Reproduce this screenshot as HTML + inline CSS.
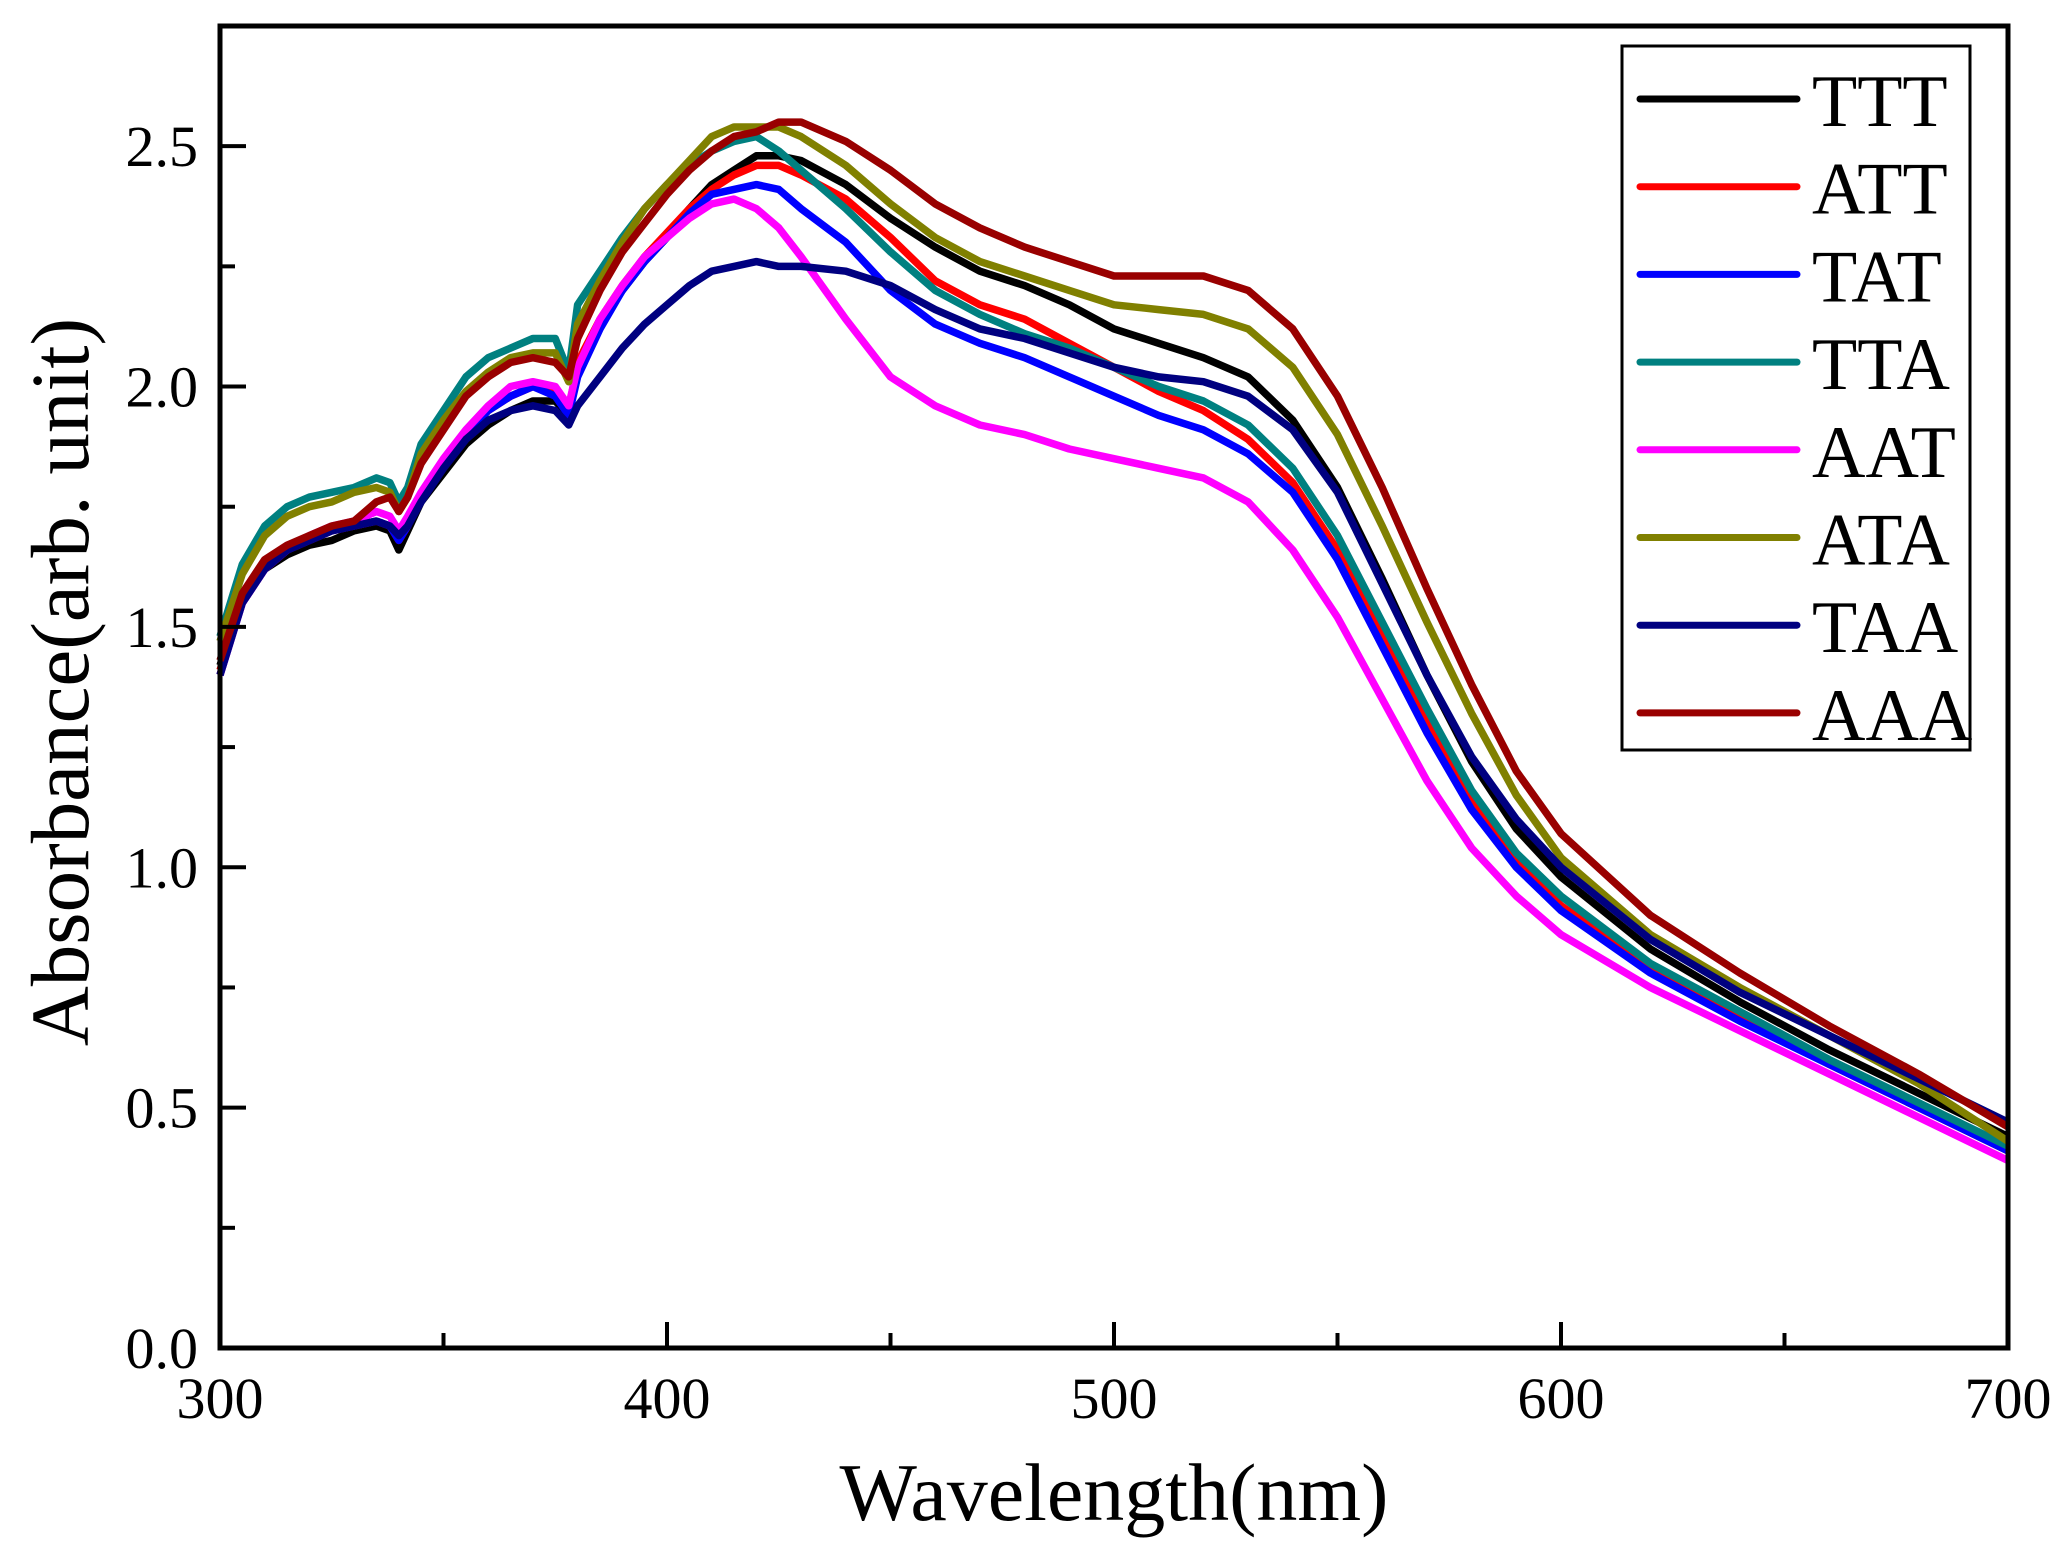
<!DOCTYPE html>
<html><head><meta charset="utf-8"><style>
html,body{margin:0;padding:0;background:#fff;}
svg{display:block;}
text{font-family:"Liberation Serif",serif;fill:#000;}
</style></head><body>
<svg id="chart" width="2070" height="1562" viewBox="0 0 2070 1562" xmlns="http://www.w3.org/2000/svg">
<g id="series"></g>
<g id="axes"></g>
<g id="legend"></g>
<text x="1114" y="1520" font-size="82" text-anchor="middle">Wavelength(nm)</text>
<text transform="translate(88,682) rotate(-90)" font-size="83" text-anchor="middle">Absorbance(arb. unit)</text>
</svg>
<script>
const wavelengths=[300,305,310,315,320,325,330,335,338,340,342,345,350,355,360,365,370,375,378,380,385,390,395,400,405,410,415,420,425,430,440,450,460,470,480,490,500,510,520,530,540,550,560,570,580,590,600,620,640,660,680,700];
const seriesNames=["TTT","ATT","TAT","TTA","AAT","ATA","TAA","AAA"];
const seriesColors=["#000000","#ff0000","#0000ff","#008080","#ff00ff","#808000","#000080","#990000"];
const valsTTT=[1.42,1.56,1.62,1.65,1.67,1.68,1.70,1.71,1.70,1.66,1.70,1.76,1.82,1.88,1.92,1.95,1.97,1.97,1.94,2.03,2.13,2.20,2.26,2.31,2.37,2.42,2.45,2.48,2.48,2.47,2.42,2.35,2.29,2.24,2.21,2.17,2.12,2.09,2.06,2.02,1.93,1.79,1.60,1.40,1.22,1.08,0.98,0.83,0.72,0.62,0.53,0.44];
const valsATT=[1.41,1.55,1.62,1.66,1.68,1.70,1.71,1.72,1.71,1.68,1.71,1.77,1.84,1.90,1.95,1.98,2.00,1.99,1.95,2.05,2.14,2.21,2.27,2.32,2.37,2.41,2.44,2.46,2.46,2.44,2.39,2.31,2.22,2.17,2.14,2.09,2.04,1.99,1.95,1.89,1.80,1.66,1.48,1.30,1.14,1.01,0.92,0.79,0.69,0.59,0.50,0.41];
const valsTAT=[1.40,1.55,1.62,1.66,1.68,1.70,1.71,1.72,1.71,1.68,1.71,1.77,1.84,1.90,1.95,1.98,2.00,1.98,1.94,2.02,2.12,2.20,2.26,2.31,2.36,2.40,2.41,2.42,2.41,2.37,2.30,2.20,2.13,2.09,2.06,2.02,1.98,1.94,1.91,1.86,1.78,1.64,1.46,1.28,1.12,1.00,0.91,0.78,0.68,0.59,0.50,0.41];
const valsTTA=[1.48,1.63,1.71,1.75,1.77,1.78,1.79,1.81,1.80,1.76,1.79,1.88,1.95,2.02,2.06,2.08,2.10,2.10,2.03,2.17,2.24,2.31,2.37,2.42,2.46,2.49,2.51,2.52,2.49,2.45,2.37,2.28,2.20,2.15,2.11,2.08,2.04,2.00,1.97,1.92,1.83,1.69,1.51,1.33,1.16,1.03,0.94,0.80,0.70,0.60,0.51,0.42];
const valsAAT=[1.40,1.55,1.62,1.66,1.69,1.71,1.72,1.74,1.73,1.70,1.73,1.78,1.85,1.91,1.96,2.00,2.01,2.00,1.96,2.04,2.14,2.21,2.27,2.31,2.35,2.38,2.39,2.37,2.33,2.27,2.14,2.02,1.96,1.92,1.90,1.87,1.85,1.83,1.81,1.76,1.66,1.52,1.35,1.18,1.04,0.94,0.86,0.75,0.66,0.57,0.48,0.39];
const valsATA=[1.47,1.61,1.69,1.73,1.75,1.76,1.78,1.79,1.78,1.74,1.77,1.86,1.93,1.99,2.03,2.06,2.07,2.07,2.01,2.13,2.22,2.30,2.37,2.42,2.47,2.52,2.54,2.54,2.54,2.52,2.46,2.38,2.31,2.26,2.23,2.20,2.17,2.16,2.15,2.12,2.04,1.90,1.71,1.51,1.32,1.15,1.02,0.86,0.75,0.65,0.55,0.43];
const valsTAA=[1.40,1.55,1.62,1.66,1.68,1.70,1.71,1.72,1.71,1.69,1.71,1.76,1.83,1.89,1.93,1.95,1.96,1.95,1.92,1.96,2.02,2.08,2.13,2.17,2.21,2.24,2.25,2.26,2.25,2.25,2.24,2.21,2.16,2.12,2.10,2.07,2.04,2.02,2.01,1.98,1.91,1.78,1.59,1.40,1.23,1.10,1.00,0.85,0.74,0.65,0.56,0.47];
const valsAAA=[1.43,1.57,1.64,1.67,1.69,1.71,1.72,1.76,1.77,1.74,1.77,1.84,1.91,1.98,2.02,2.05,2.06,2.05,2.02,2.10,2.20,2.28,2.34,2.40,2.45,2.49,2.52,2.53,2.55,2.55,2.51,2.45,2.38,2.33,2.29,2.26,2.23,2.23,2.23,2.20,2.12,1.98,1.79,1.58,1.38,1.20,1.07,0.90,0.78,0.67,0.57,0.46];
const xTickValues=[300,400,500,600,700];
const xTickLabels=["300","400","500","600","700"];
const yTickValues=[0,0.5,1.0,1.5,2.0,2.5];
const yTickLabels=["0.0","0.5","1.0","1.5","2.0","2.5"];

const allVals=[valsTTT,valsATT,valsTAT,valsTTA,valsAAT,valsATA,valsTAA,valsAAA];
const NS="http://www.w3.org/2000/svg";
const L=220,R=2008,T=26,B=1348;
const xMin=300,xMax=700,yMin=0,yMax=2.75;
function xs(v){return L+(v-xMin)/(xMax-xMin)*(R-L);}
function ys(v){return B-(v-yMin)/(yMax-yMin)*(B-T);}
function mk(tag,attrs,parent){const e=document.createElementNS(NS,tag);for(const k in attrs)e.setAttribute(k,attrs[k]);parent.appendChild(e);return e;}

const sg=document.getElementById('series');
allVals.forEach((vals,i)=>{
  let d=vals.map((v,j)=>(j?'L':'M')+xs(wavelengths[j]).toFixed(1)+' '+ys(v).toFixed(1)).join(' ');
  const p=mk('path',{d:d,fill:'none',stroke:seriesColors[i],'stroke-width':7.5,'stroke-linejoin':'round'},sg);
  
  
});

const ag=document.getElementById('axes');
const frame=mk('rect',{x:L,y:T,width:R-L,height:B-T,fill:'none',stroke:'#000','stroke-width':5},ag);


for(let v=300;v<=700;v+=50){
  const major=(v%100===0);
  const t=mk('line',{x1:xs(v),x2:xs(v),y1:B,y2:B-(major?26:15),stroke:'#000','stroke-width':4},ag);
  
  
}
for(let k=0;k<=10;k++){
  const v=k*0.25;
  const major=(k%2===0);
  const t=mk('line',{x1:L,x2:L+(major?26:15),y1:ys(v),y2:ys(v),stroke:'#000','stroke-width':4},ag);
  
  
}
xTickValues.forEach((v,i)=>{
  const t=mk('text',{x:xs(v),y:1418,'font-size':58,'text-anchor':'middle'},ag);
  t.textContent=xTickLabels[i];
  
  
});
yTickValues.forEach((v,i)=>{
  const t=mk('text',{x:198,y:ys(v)+20,'font-size':58,'text-anchor':'end'},ag);
  t.textContent=yTickLabels[i];
  
  
});

const lg=document.getElementById('legend');
const box=mk('rect',{x:1622,y:46,width:348,height:704,fill:'#fff',stroke:'#000','stroke-width':3},lg);


seriesNames.forEach((n,i)=>{
  const y=99+i*87.7;
  const l=mk('line',{x1:1640,x2:1797,y1:y,y2:y,stroke:seriesColors[i],'stroke-width':7,'stroke-linecap':'round'},lg);
  
  
  const t=mk('text',{x:1812,y:y+27,'font-size':74},lg);
  t.textContent=n;
  
  
});
</script>
</body></html>
